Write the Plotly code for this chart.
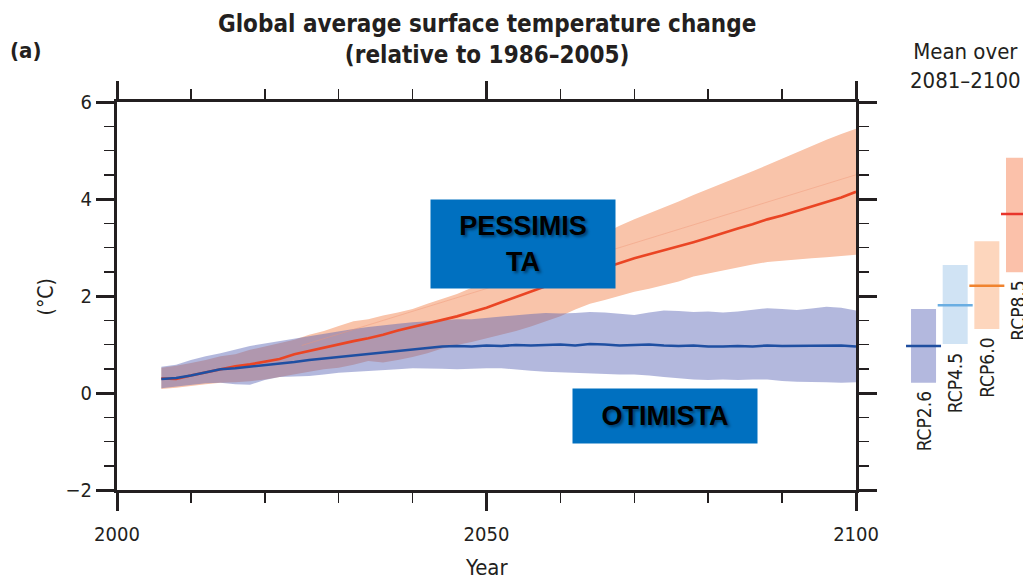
import plotly.graph_objects as go

# ---------------- data ----------------
years = [2006, 2008, 2010, 2012, 2014, 2016, 2018, 2020, 2022, 2024,
         2026, 2028, 2030, 2032, 2034, 2036, 2038, 2040, 2042, 2044,
         2046, 2048, 2050, 2052, 2054, 2056, 2058, 2060, 2062, 2064,
         2066, 2068, 2070, 2072, 2074, 2076, 2078, 2080, 2082, 2084,
         2086, 2088, 2090, 2092, 2094, 2096, 2098, 2100]

rcp85_mean = [0.30, 0.29, 0.36, 0.42, 0.48, 0.55, 0.59, 0.64, 0.70, 0.80,
              0.87, 0.93, 1.00, 1.07, 1.13, 1.20, 1.29, 1.36, 1.44, 1.51,
              1.58, 1.67, 1.76, 1.87, 1.98, 2.10, 2.20, 2.30, 2.38, 2.48,
              2.58, 2.67, 2.78, 2.86, 2.94, 3.02, 3.11, 3.20, 3.30, 3.39,
              3.48, 3.58, 3.66, 3.75, 3.85, 3.94, 4.03, 4.15]
rcp85_upper = [0.52, 0.56, 0.62, 0.68, 0.76, 0.80, 0.89, 0.96, 1.04, 1.10,
               1.20, 1.28, 1.38, 1.48, 1.52, 1.60, 1.66, 1.73, 1.84, 1.94,
               2.04, 2.17, 2.30, 2.42, 2.55, 2.68, 2.80, 2.93, 3.06, 3.18,
               3.30, 3.45, 3.58, 3.70, 3.83, 3.95, 4.08, 4.20, 4.32, 4.44,
               4.57, 4.70, 4.83, 4.97, 5.10, 5.22, 5.34, 5.45]
rcp85_lower = [0.08, 0.11, 0.14, 0.18, 0.21, 0.22, 0.24, 0.28, 0.33, 0.38,
               0.44, 0.49, 0.52, 0.58, 0.66, 0.63, 0.68, 0.74, 0.82, 0.92,
               0.99, 1.05, 1.12, 1.20, 1.28, 1.37, 1.47, 1.58, 1.72, 1.84,
               1.92, 2.00, 2.09, 2.15, 2.22, 2.30, 2.40, 2.47, 2.53, 2.59,
               2.65, 2.70, 2.73, 2.75, 2.78, 2.80, 2.82, 2.85]

rcp26_mean = [0.29, 0.31, 0.36, 0.43, 0.49, 0.51, 0.54, 0.57, 0.60, 0.64,
              0.68, 0.71, 0.74, 0.77, 0.80, 0.83, 0.86, 0.89, 0.93, 0.96,
              0.97, 0.96, 0.98, 0.97, 0.99, 0.98, 0.99, 1.00, 0.98, 1.01,
              1.00, 0.98, 0.99, 1.00, 0.98, 0.97, 0.98, 0.96, 0.96, 0.97,
              0.96, 0.98, 0.97, 0.97, 0.98, 0.97, 0.98, 0.96]
rcp26_upper = [0.54, 0.58, 0.68, 0.76, 0.82, 0.90, 0.97, 1.02, 1.07, 1.12,
               1.18, 1.22, 1.28, 1.32, 1.36, 1.40, 1.43, 1.46, 1.48, 1.50,
               1.52, 1.52, 1.55, 1.57, 1.60, 1.63, 1.65, 1.64, 1.65, 1.67,
               1.66, 1.63, 1.61, 1.66, 1.70, 1.69, 1.67, 1.68, 1.66, 1.68,
               1.72, 1.75, 1.73, 1.71, 1.74, 1.78, 1.76, 1.70]
rcp26_lower = [0.10, 0.14, 0.17, 0.20, 0.21, 0.18, 0.17, 0.27, 0.33, 0.34,
               0.35, 0.38, 0.42, 0.44, 0.45, 0.47, 0.49, 0.51, 0.50, 0.50,
               0.49, 0.50, 0.51, 0.51, 0.48, 0.46, 0.44, 0.42, 0.41, 0.40,
               0.39, 0.38, 0.38, 0.36, 0.33, 0.30, 0.28, 0.27, 0.28, 0.27,
               0.28, 0.28, 0.25, 0.23, 0.22, 0.22, 0.21, 0.22]

faint_years = [2025, 2100]
faint_line = [0.98, 4.50]

rcp_names = ["RCP2.6", "RCP4.5", "RCP6.0", "RCP8.5"]
rcp_pos = [1, 2, 3, 4]
rcp_low = [0.21, 1.01, 1.32, 2.49]
rcp_high = [1.73, 2.64, 3.13, 4.85]
rcp_mean = [0.97, 1.81, 2.21, 3.69]

x_ticks = [2000, 2050, 2100]
y_ticks = [-2, 0, 2, 4, 6]
y_ticktext = ["\u22122", "0", "2", "4", "6"]

# ---------------- styles ----------------
FONT = "DejaVu Sans Condensed, DejaVu Sans, sans-serif"
INK = "#231f20"
bar_fill = ["#b3b8de", "#d0e3f4", "#fdd6bd", "#fbc1aa"]
bar_line = ["#1f4e9f", "#6aaee2", "#f0832f", "#e8352b"]

fig = go.Figure()

# RCP8.5 band
fig.add_trace(go.Scatter(
    x=years + years[::-1], y=rcp85_upper + rcp85_lower[::-1],
    fill="toself", fillcolor="rgb(249,196,170)", line=dict(width=0),
    mode="lines", hoverinfo="skip", showlegend=False))
# RCP2.6 band (translucent, giving the mauve overlap)
fig.add_trace(go.Scatter(
    x=years + years[::-1], y=rcp26_upper + rcp26_lower[::-1],
    fill="toself", fillcolor="rgba(87,98,180,0.45)", line=dict(width=0),
    mode="lines", hoverinfo="skip", showlegend=False))
# faint line
fig.add_trace(go.Scatter(x=faint_years, y=faint_line, mode="lines",
                         line=dict(color="rgba(240,150,120,0.45)", width=1),
                         showlegend=False, hoverinfo="skip"))
# mean lines
fig.add_trace(go.Scatter(x=years, y=rcp85_mean, mode="lines",
                         line=dict(color="#ea4524", width=2.6), showlegend=False))
fig.add_trace(go.Scatter(x=years, y=rcp26_mean, mode="lines",
                         line=dict(color="#1f4fa2", width=2.6), showlegend=False))

# dummy trace for mirrored top/right axes
fig.add_trace(go.Scatter(x=[None], y=[None], xaxis="x2", yaxis="y2",
                         showlegend=False, hoverinfo="skip"))

# right panel: 2081-2100 means
fig.add_trace(go.Bar(
    x=rcp_pos, y=[h - l for h, l in zip(rcp_high, rcp_low)], base=rcp_low,
    width=0.79, marker=dict(color=bar_fill, line=dict(width=0)),
    xaxis="x3", yaxis="y3", showlegend=False, hoverinfo="skip"))
fig.add_trace(go.Scatter(
    x=rcp_pos, y=rcp_mean, mode="markers",
    marker=dict(symbol="line-ew", size=25,
                line=dict(color=bar_line, width=2.5)),
    xaxis="x3", yaxis="y3", showlegend=False, hoverinfo="skip"))

axis_common = dict(showline=True, linewidth=3, linecolor=INK, ticks="outside",
                   tickcolor=INK, tickwidth=3, ticklen=18, showgrid=False,
                   zeroline=False, automargin=False)
minor_x = dict(dtick=10, ticks="outside", ticklen=10, tickwidth=1.5,
               tickcolor=INK, showgrid=False)
minor_y = dict(dtick=0.5, ticks="outside", ticklen=10, tickwidth=1.5,
               tickcolor=INK, showgrid=False)

MAIN_DOM = [0, 0.8157]

fig.update_layout(
    width=1023, height=580,
    margin=dict(l=117, r=0, t=102, b=90, autoexpand=False),
    paper_bgcolor="white", plot_bgcolor="white",
    font=dict(family=FONT, color=INK, size=20),
    showlegend=False,
    xaxis=dict(domain=MAIN_DOM, range=[2000, 2100], tickvals=x_ticks,
               ticktext=[str(v) for v in x_ticks], minor=minor_x,
               ticklabelstandoff=6, anchor="y",
               tickfont=dict(size=20), **axis_common),
    yaxis=dict(domain=[0, 1], range=[-2, 6], tickvals=y_ticks,
               ticktext=y_ticktext, minor=minor_y,
               anchor="x", tickfont=dict(size=20), **axis_common),
    xaxis2=dict(domain=MAIN_DOM, range=[2000, 2100], tickvals=x_ticks,
                overlaying="x", side="top", anchor="y2", showticklabels=False,
                minor=minor_x, **axis_common),
    yaxis2=dict(domain=[0, 1], range=[-2, 6], tickvals=y_ticks,
                overlaying="y", side="right", anchor="x2", showticklabels=False,
                minor=minor_y, **axis_common),
    xaxis3=dict(domain=[0.84, 1], range=[-0.437, 4.142], visible=False,
                anchor="y3", automargin=False),
    yaxis3=dict(domain=[0, 1], range=[-2, 6], visible=False, anchor="x3",
                automargin=False),
)

ann = []
ann.append(dict(text="Global average surface temperature change<br>(relative to 1986\u20132005)",
                xref="paper", yref="paper", x=0.408, y=1.161, showarrow=False,
                xanchor="center", yanchor="middle",
                font=dict(size=24, family=FONT, weight="bold")))
ann.append(dict(text="(a)", xref="paper", yref="paper", x=-0.1015, y=1.134,
                showarrow=False, xanchor="center", yanchor="middle",
                font=dict(size=22, family=FONT, weight="bold")))
ann.append(dict(text="Mean over<br>2081\u20132100", xref="paper", yref="paper",
                x=0.936, y=1.093, showarrow=False, xanchor="center",
                yanchor="middle", font=dict(size=22, family=FONT)))
ann.append(dict(text="(\u00b0C)", xref="paper", yref="paper", x=-0.078, y=0.497,
                showarrow=False, textangle=-90, xanchor="center",
                yanchor="middle", font=dict(size=21, family=FONT)))
ann.append(dict(text="Year", xref="paper", yref="paper", x=0.408, y=-0.201,
                showarrow=False, xanchor="center", yanchor="middle",
                font=dict(size=22, family=FONT)))
for p, lo, name in zip(rcp_pos, rcp_low, rcp_names):
    ann.append(dict(text=name, xref="x3", yref="y3", x=p, y=lo, yshift=-7,
                    showarrow=False, textangle=-90, xanchor="center",
                    yanchor="top", font=dict(size=19, family=FONT)))
# labelled boxes
box_font = dict(family="Liberation Sans, Arial, sans-serif", size=27,
                color="black", weight="bold",
                shadow="2px 2px 3px rgba(0,0,0,0.45)")
ann.append(dict(text="PESSIMIS<br>TA", xref="x", yref="y", x=2054.9, y=3.07,
                showarrow=False, xanchor="center", yanchor="middle",
                width=184, height=88, bgcolor="#0070c0", borderpad=0,
                font=box_font))
ann.append(dict(text="OTIMISTA", xref="x", yref="y", x=2074.2, y=-0.47,
                showarrow=False, xanchor="center", yanchor="middle",
                width=184, height=54, bgcolor="#0070c0", borderpad=0,
                font=box_font))
fig.update_layout(annotations=ann)

# remove the page's default 8px body margin so the figure fills the window
fig.write_html(
    "out.html",
    config={"displayModeBar": False, "staticPlot": True},
    post_script="document.body.style.margin='0';"
                "document.body.style.overflow='hidden';",
)
